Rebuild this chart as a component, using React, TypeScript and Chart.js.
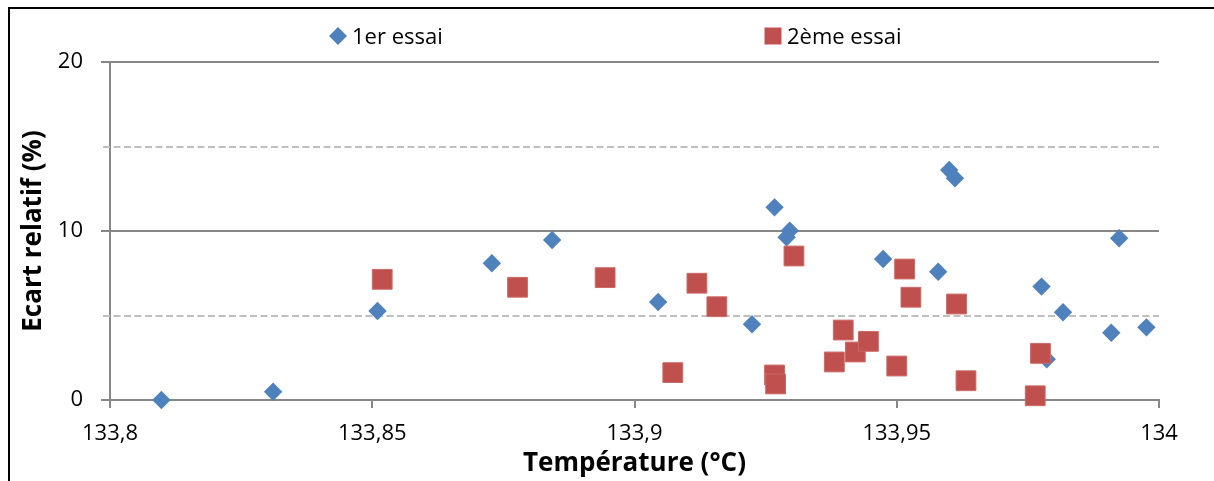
import React, { useEffect, useRef } from 'react';
import { Chart, registerables } from 'chart.js';

Chart.register(...registerables);

// ---- Data ----
const seriesLabels = ['1er essai', '2ème essai'];

const essai1Temp = [
  133.8098, 133.8311, 133.851, 133.8728, 133.8843, 133.9045, 133.9224, 133.9267, 133.929, 133.9296,
  133.9474, 133.9579, 133.96, 133.9611, 133.9776, 133.9786, 133.9817, 133.9909, 133.9924, 133.9976,
];
const essai1Ecart = [
  0, 0.49, 5.27, 8.09, 9.47, 5.8, 4.48, 11.4, 9.63, 10.02,
  8.34, 7.59, 13.61, 13.12, 6.71, 2.41, 5.19, 3.98, 9.57, 4.3,
];

const essai2Temp = [
  133.8519, 133.8777, 133.8944, 133.9073, 133.9119, 133.9157, 133.9267, 133.9269, 133.9304, 133.9381,
  133.9398, 133.9421, 133.9446, 133.95, 133.9515, 133.9527, 133.9614, 133.9632, 133.9764, 133.9774,
];
const essai2Ecart = [
  7.14, 6.67, 7.24, 1.62, 6.91, 5.52, 1.48, 0.95, 8.52, 2.25,
  4.14, 2.84, 3.47, 2.01, 7.75, 6.08, 5.68, 1.14, 0.25, 2.76,
];

const xTickValues = [133.8, 133.85, 133.9, 133.95, 134];
const xTickLabels = ['133,8', '133,85', '133,9', '133,95', '134'];
const yTickValues = [0, 10, 20];
const yTickLabels = ['0', '10', '20'];
const yMinorGridValues = [5, 15];

const xTitle = 'Température (°C)';
const yTitle = 'Ecart relatif (%)';

// ---- Styles ----
const BLUE = '#4F81BD';
const RED = '#C0504D';
const AXIS_GREY = '#878787';
const DASH_GREY = '#BFBFBF';
const FONT = "'Open Sans', 'Liberation Sans', sans-serif";
const W = 1214;
const H = 481;

const minorGridPlugin = {
  id: 'minorGrid',
  beforeDatasetsDraw(chart: any) {
    const { ctx, chartArea, scales } = chart;
    ctx.save();
    ctx.strokeStyle = DASH_GREY;
    ctx.lineWidth = 2;
    ctx.setLineDash([7, 3.5]);
    yMinorGridValues.forEach((v) => {
      const y = Math.round(scales.y.getPixelForValue(v));
      ctx.beginPath();
      ctx.moveTo(chartArea.left - 7, y);
      ctx.lineTo(chartArea.right, y);
      ctx.stroke();
    });
    ctx.restore();
  },
};

const legendPlugin = {
  id: 'excelLegend',
  afterDraw(chart: any) {
    const { ctx } = chart;
    const markerCenters = [338, 773];
    const cy = 36;
    ctx.save();
    chart.data.datasets.forEach((ds: any, i: number) => {
      const cx = markerCenters[i];
      ctx.fillStyle = ds.backgroundColor;
      ctx.beginPath();
      if (ds.pointStyle === 'rectRot') {
        const r = 9;
        ctx.moveTo(cx - r, cy);
        ctx.lineTo(cx, cy - r);
        ctx.lineTo(cx + r, cy);
        ctx.lineTo(cx, cy + r);
        ctx.closePath();
      } else {
        const s = 17;
        ctx.rect(cx - s / 2, cy - s / 2, s, s);
      }
      ctx.fill();
      ctx.fillStyle = '#000';
      ctx.font = `22px ${FONT}`;
      ctx.textBaseline = 'middle';
      ctx.textAlign = 'left';
      ctx.fillText(ds.label, cx + 14, cy + 2);
    });
    ctx.restore();
  },
};

export default function App() {
  const canvasRef = useRef<HTMLCanvasElement | null>(null);

  useEffect(() => {
    if (!canvasRef.current) return;
    const chart = new Chart(canvasRef.current, {
      type: 'scatter',
      data: {
        datasets: [
          {
            label: seriesLabels[0],
            data: essai1Temp.map((t, i) => ({ x: t, y: essai1Ecart[i] })),
            pointStyle: 'rectRot',
            pointRadius: 9.2,
            pointHoverRadius: 9.2,
            backgroundColor: BLUE,
            borderColor: BLUE,
            borderWidth: 0,
            order: 1,
            clip: false,
          },
          {
            label: seriesLabels[1],
            data: essai2Temp.map((t, i) => ({ x: t, y: essai2Ecart[i] })),
            pointStyle: 'rect',
            pointRadius: 14,
            pointHoverRadius: 14,
            backgroundColor: RED,
            borderColor: '#CB6A67',
            borderWidth: 1,
            order: 0,
            clip: false,
          },
        ],
      },
      options: {
        responsive: false,
        animation: false,
        events: [],
        layout: { padding: { top: 62, right: W - 1159, left: 0, bottom: 0 } },
        plugins: {
          legend: { display: false },
          tooltip: { enabled: false },
        },
        scales: {
          x: {
            type: 'linear',
            position: 'bottom',
            min: 133.8,
            max: 134,
            afterBuildTicks: (s: any) => {
              s.ticks = xTickValues.map((v) => ({ value: v }));
            },
            afterFit: (s: any) => {
              s.height = H - 400;
            },
            ticks: {
              callback: (_v: any, i: number) => xTickLabels[i],
              font: { family: FONT, size: 22 },
              color: '#000',
              padding: 13,
              maxRotation: 0,
              autoSkip: false,
            },
            grid: {
              drawOnChartArea: false,
              drawTicks: true,
              tickLength: 8,
              color: AXIS_GREY,
              lineWidth: 2,
            },
            border: { display: true, color: AXIS_GREY, width: 2 },
            title: {
              display: true,
              text: xTitle,
              font: { family: FONT, size: 26, weight: 'bold' },
              color: '#000',
              padding: { top: 0, bottom: 2 },
            },
          },
          y: {
            type: 'linear',
            position: 'left',
            min: 0,
            max: 20,
            afterBuildTicks: (s: any) => {
              s.ticks = yTickValues.map((v) => ({ value: v }));
            },
            afterFit: (s: any) => {
              s.width = 110;
            },
            ticks: {
              callback: (_v: any, i: number) => yTickLabels[i],
              font: { family: FONT, size: 22 },
              color: '#000',
              padding: 18,
            },
            grid: {
              drawOnChartArea: true,
              drawTicks: true,
              tickLength: 9,
              color: AXIS_GREY,
              lineWidth: 2,
            },
            border: { display: true, color: AXIS_GREY, width: 2 },
            title: {
              display: true,
              text: yTitle,
              font: { family: FONT, size: 26, weight: 'bold' },
              color: '#000',
              padding: { top: 18, bottom: 0 },
            },
          },
        },
      } as any,
      plugins: [minorGridPlugin, legendPlugin],
    });
    return () => chart.destroy();
  }, []);

  return (
    <div
      style={{
        position: 'fixed',
        left: 0,
        top: 0,
        width: W,
        height: H,
        overflow: 'hidden',
        background: '#fff',
      }}
    >
      <canvas ref={canvasRef} width={W} height={H} style={{ display: 'block' }} />
      <div
        style={{
          position: 'absolute',
          left: 8,
          top: 7,
          width: W + 20,
          height: H + 20,
          borderTop: '2px solid #000',
          borderLeft: '2px solid #000',
          pointerEvents: 'none',
        }}
      />
    </div>
  );
}
